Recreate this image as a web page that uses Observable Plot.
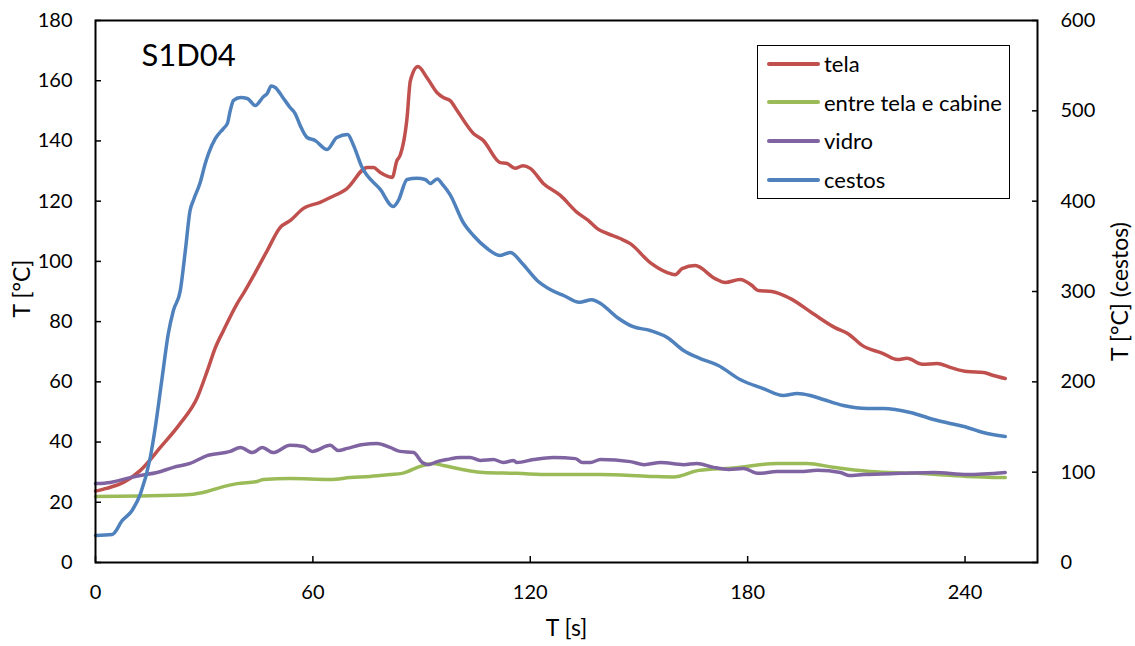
<!DOCTYPE html>
<html>
<head>
<meta charset="utf-8">
<script src="https://cdn.jsdelivr.net/npm/d3@7"></script>
<script src="https://cdn.jsdelivr.net/npm/@observablehq/plot@0.6"></script>
<style>
  body { margin: 0; background: #fff; }
  #wrap { position: relative; width: 1135px; height: 646px; font-family: Lato, sans-serif; }
  #legend { position: absolute; left: 757px; top: 45px; width: 251px; height: 152px; border: 1.5px solid #000; background: #fff; }
  .item { position: absolute; left: 9px; height: 26px; display: flex; align-items: center; font-size: 22px; color: #000; white-space: nowrap; }
  .item svg { margin-right: 4px; }
</style>
</head>
<body>
<div id="wrap"><div id="legend"></div></div>
<script>
// ---- data ----
const seriesNames = ["tela", "entre tela e cabine", "vidro", "cestos"];
const seriesColors = ["#C0504D", "#9BBB59", "#8064A2", "#4F81BD"];

const telaT = [0,3,7.7,12.4,17.9,23.4,28.1,30.9,33.1,35.3,39.1,40.8,44.1,47.4,51,53.8,57.4,62,64.8,69.4,75,76.7,78.6,81.9,83.2,84,86,86.9,89,91.5,94.3,96,97.9,99.8,104.3,107,111.7,113.6,115.8,118,120,123.6,128.3,133,136,138.5,141.2,144.8,147.6,153.1,157.8,160,161.9,165.5,171,173.8,177.9,181.2,182.9,186.7,191.7,198,204.1,207.7,211.6,217.4,221.3,224,228.2,232.3,235.9,240.6,245.1,247.8,251.1];
const telaV = [23.7,24.6,26.6,30.6,38.2,46.2,54.8,63.8,71.4,77,86,89.3,96.3,103.6,111.3,113.6,117.6,119.6,121.2,124.2,131.2,131.2,129.5,127.9,133.5,135,147.8,160,164.7,161,156,154.4,153.4,150.1,142.5,140.2,132.8,132.5,130.9,131.8,130.9,125.9,121.9,116.2,113.6,110.9,109.3,107.6,105.9,99.6,96.3,95.6,97.6,98.6,94.3,93,94,92,90.3,90,87.7,82.7,78,76,72.1,69.4,67.4,67.8,65.8,66.1,64.8,63.4,63.1,62.1,61.1];

const entreT = [0,12.4,26.1,30.8,35.3,39.1,44.6,46.4,53.7,64.8,70.3,75.8,81.3,84.6,89.6,93.2,96,107,116.3,125.5,139.3,153.1,159.5,166.5,176,188.1,196.4,203.6,213.8,226.8,240.6,251.1];
const entreV = [21.9,22.1,22.6,23.6,25.2,26.2,26.9,27.6,27.9,27.6,28.2,28.6,29.2,29.6,31.9,32.9,32.2,29.9,29.6,29.2,29.2,28.6,28.4,30.6,31.4,32.9,32.9,31.6,30.2,29.6,28.6,28.2];

const vidroT = [0,4.1,9.6,12.4,17,21.5,26.1,30.8,37.2,40,43.3,46,49,53.7,57.4,59.8,64.8,67,69.5,73.9,77.7,81.3,84,87.8,90.2,91.9,94.3,97,100.7,103.4,106.2,109.8,112.6,115.4,116.3,120.9,126.4,132.5,134.4,136.6,139.4,147.6,151.5,156,162.3,166,170.6,174.8,178.8,183,188.1,194.5,199.2,205.6,207.9,212,222.2,231.4,240.6,251.1];
const vidroV = [26.2,26.6,28.2,28.9,29.9,31.6,32.9,35.5,36.9,38.2,36.5,38.2,36.5,38.9,38.5,36.9,38.9,37.2,37.9,39.2,39.5,38.2,36.9,36.5,33.2,32.5,33.5,34.2,34.9,34.9,33.9,34.2,33.2,33.9,33.2,34.2,34.9,34.5,33.2,33.2,34.2,33.5,32.5,33.2,32.5,32.9,31.6,30.9,31.2,29.6,30.2,30.2,30.6,29.9,28.9,29.2,29.6,29.9,29.2,29.9];

const cestosT = [0,4.6,7.4,10.1,12.4,15.1,16.5,18.4,20.1,21.5,23.4,24.8,26.1,27,28.9,30.3,31.2,33.1,35.3,36.4,37.2,38.1,40,41.9,44.1,46.4,47.4,48.5,49.6,51.9,53.7,55.1,56.5,58.4,60.6,63.9,66.6,69.6,71,73.5,78.6,82.2,83.6,86,88.7,91,92.4,94.3,96,97.9,101.5,104.3,108.1,111.7,114.5,117.8,121.9,125.5,129.5,133.5,137,139.4,144,148.2,153.1,157.8,162.3,166.9,171.9,177.9,184.3,189.8,193.7,197.3,200.9,206.4,213,217.5,224.9,231.3,235.9,240.6,245,251.1];
const cestosV = [30,31,46.5,57.6,76,116,149.5,204.8,253.5,279,301,345.4,389.7,400.8,420.7,441.7,452.8,469.4,480.4,486,500.4,511.5,514.8,513.7,505.9,515.9,519.2,527.5,525.9,513.7,503.7,497,483.8,470.5,467.2,457.2,470.5,473.8,463.9,438,413,394.1,400.8,424,425.5,424,419.6,424.5,417.4,407,376.4,362,347.6,339.9,343.2,331,312.2,302.2,295,288,291,286.7,271.2,261.3,256.8,249.1,234.7,225.8,218.1,202.6,192.6,184.9,187.1,184.9,180.4,173.8,170.5,170.5,166.1,158.3,153.9,149.5,143.9,139.5];

const xTicks = [0, 60, 120, 180, 240];
const yTicks = [0, 20, 40, 60, 80, 100, 120, 140, 160, 180];
const y2Ticks = [0, 100, 200, 300, 400, 500, 600];
const xDomain = [0, 260];
const yMax = 180, y2Max = 600;

const chartTitle = "S1D04";
const xTitle = "T [s]";
const yTitle = "T [°C]";
const y2Title = "T [°C] (cestos)";

// ---- build ----
const ratio = yMax / y2Max;
const pts = (T, V) => T.map((t, i) => ({t, v: V[i]}));
const tela = pts(telaT, telaV);
const entre = pts(entreT, entreV);
const vidro = pts(vidroT, vidroV);
const cestos = pts(cestosT, cestosV);

const lineOpts = (color, yfn) => ({x: "t", y: yfn || "v", stroke: color, strokeWidth: 3.5, curve: "monotone-x", strokeLinejoin: "round", strokeLinecap: "round"});

const chart = Plot.plot({
  width: 1135, height: 646,
  marginLeft: 95, marginRight: 98, marginTop: 20, marginBottom: 84,
  style: {fontFamily: "Lato, sans-serif", fontSize: "20px", color: "#000", background: "#fff"},
  x: {domain: xDomain},
  y: {domain: [0, yMax]},
  marks: [
    Plot.line(tela, lineOpts(seriesColors[0])),
    Plot.line(entre, lineOpts(seriesColors[1])),
    Plot.line(vidro, lineOpts(seriesColors[2])),
    Plot.line(cestos, lineOpts(seriesColors[3], d => d.v * ratio)),
    Plot.frame({stroke: "#000", strokeWidth: 2}),
    // inward ticks
    Plot.axisX(xTicks, {tickSize: 6, dy: -6, tickFormat: () => "", label: null, strokeWidth: 1.5}),
    Plot.axisY(yTicks, {anchor: "left", tickSize: 6, dx: 6, tickFormat: () => "", label: null, strokeWidth: 1.5}),
    Plot.axisY(y2Ticks.map(v => v * ratio), {anchor: "right", tickSize: 6, dx: -6, tickFormat: () => "", label: null, strokeWidth: 1.5}),
    // tick labels
    Plot.axisX(xTicks, {tickSize: 0, tickPadding: 22, label: null, fontSize: 20}),
    Plot.axisY(yTicks, {anchor: "left", tickSize: 0, tickPadding: 23, label: null, fontSize: 20}),
    Plot.axisY(y2Ticks.map(v => v * ratio), {anchor: "right", tickSize: 0, tickPadding: 23, label: null, fontSize: 20, tickFormat: d => String(Math.round(d / ratio))}),
    // titles
    Plot.text([xTitle], {frameAnchor: "bottom", dy: 66, text: d => d, fontSize: 23, textAnchor: "middle", lineAnchor: "middle"}),
    Plot.text([yTitle], {frameAnchor: "left", dx: -73, dy: -3, text: d => d, rotate: -90, fontSize: 23, textAnchor: "middle", lineAnchor: "middle"}),
    Plot.text([y2Title], {frameAnchor: "right", dx: 83, text: d => d, rotate: -90, fontSize: 23, textAnchor: "middle", lineAnchor: "middle"}),
    Plot.text([chartTitle], {frameAnchor: "top-left", dx: 46, dy: 36, text: d => d, fontSize: 31, textAnchor: "start", lineAnchor: "middle"})
  ]
});

const wrap = document.getElementById("wrap");
wrap.insertBefore(chart, wrap.firstChild);

const legend = document.getElementById("legend");
seriesNames.forEach((name, i) => {
  const item = document.createElement("div");
  item.className = "item";
  item.style.top = (4.5 + i * 38.7) + "px";
  item.innerHTML = `<svg width="53" height="8"><line x1="2" y1="4" x2="51" y2="4" stroke="${seriesColors[i]}" stroke-width="4" stroke-linecap="round"/></svg><span>${name}</span>`;
  legend.appendChild(item);
});
</script>
</body>
</html>
